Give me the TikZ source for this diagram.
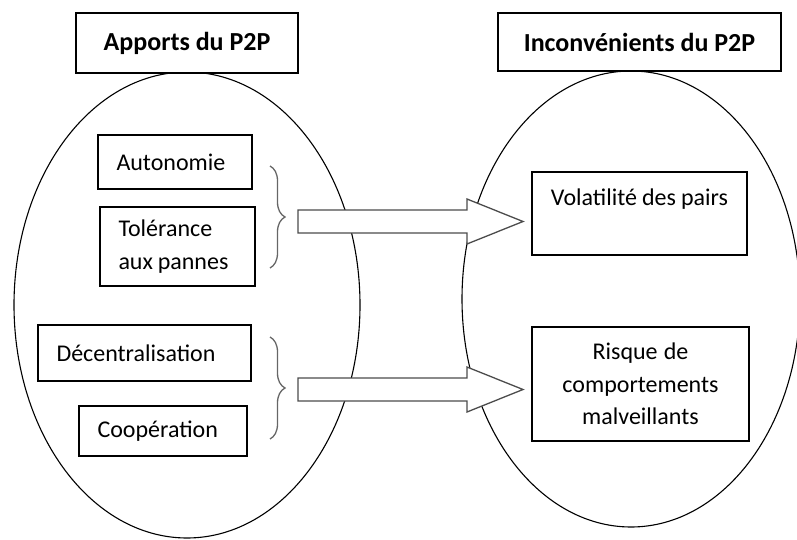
\documentclass[tikz,border=0pt]{standalone}
\usepackage{fontspec}
\setmainfont{Carlito}
\usetikzlibrary{shapes.geometric,decorations.pathreplacing}
\newcommand{\tightsp}{\spaceskip=0.2em plus 0.05em minus 0.05em\relax}
\begin{document}
\begin{tikzpicture}[x=1pt,y=-1pt,
  oval/.style={draw, ellipse, line width=1.1pt, inner sep=0pt},
  titlebox/.style={draw, fill=white, line width=1.4pt, inner sep=0pt,
    font=\fontsize{26}{30}\selectfont\bfseries},
  itembox/.style={draw, fill=white, line width=1.4pt, inner ysep=0pt,
    font=\fontsize{24}{32.5}\selectfont},
  bracestyle/.style={draw=black!60, line width=1.3pt,
    decorate, decoration={brace, amplitude=15pt}},
  bigarrow/.style={draw=black!70, fill=white, line width=1.3pt, line join=miter}]
\useasboundingbox (0,0) rectangle (797,540);
% ovals
\node[oval, minimum width=346pt, minimum height=466pt] (lov) at (187,305) {};
\node[oval, minimum width=338pt, minimum height=456pt] (rov) at (631,299) {};
% titles
\node[titlebox, minimum width=222pt, minimum height=60pt] (ltitle) at (187,43) {Apports du P2P};
\node[titlebox, minimum width=283pt, minimum height=58pt] (rtitle) at (639.5,42) {Inconvénients du P2P};
% left items
\node[itembox, align=left, text width=117pt, inner xsep=18.5pt, minimum height=54pt] (auto) at (175,162) {Autonomie};
\node[itembox, align=left, text width=118pt, inner xsep=18.5pt, minimum height=79pt] (tol) at (177.5,246.5) {\tightsp Tolérance\\aux pannes};
\node[itembox, align=left, text width=176pt, inner xsep=18.5pt, minimum height=56pt] (dec) at (144.5,353) {Décentralisation};
\node[itembox, align=left, text width=131pt, inner xsep=18.5pt, minimum height=50pt] (coop) at (163,431) {Coopération};
% right items
\node[itembox, align=center, text width=200pt, inner xsep=7.5pt, minimum height=83pt] (vol) at (639.5,213.5) {\tightsp Volatilité des pairs\\\mbox{}};
\node[itembox, align=center, text width=202pt, inner xsep=7.5pt, minimum height=114pt] (risk) at (640.5,384) {\tightsp Risque de\\comportements\\malveillants};
% braces
\coordinate (b1t) at (270,166);
\coordinate (b1b) at (270,268);
\coordinate (b2t) at (270,337);
\coordinate (b2b) at (270,439);
\draw[bracestyle] (b1t) -- (b1b);
\draw[bracestyle] (b2t) -- (b2b);
% arrows
\coordinate (a1) at (298,210);
\coordinate (a2) at (298,378);
\draw[bigarrow] (a1) -- ++(169,0) -- ++(0,-11) -- ++(56,22.5) -- ++(-56,22.5) -- ++(0,-11) -- ++(-169,0) -- cycle;
\draw[bigarrow] (a2) -- ++(169,0) -- ++(0,-11) -- ++(56,22.5) -- ++(-56,22.5) -- ++(0,-11) -- ++(-169,0) -- cycle;
\end{tikzpicture}
\end{document}
